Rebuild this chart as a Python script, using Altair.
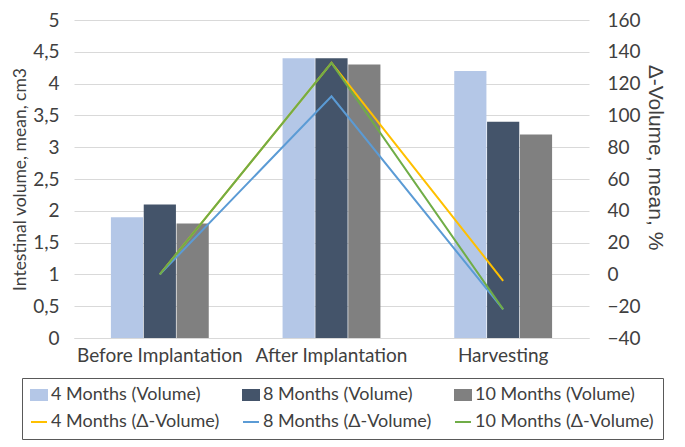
import altair as alt
import pandas as pd

categories = ["Before Implantation", "After Implantation", "Harvesting"]
bar_series = ["4 Months (Volume)", "8 Months (Volume)", "10 Months (Volume)"]
bar_4m = [1.9, 4.4, 4.2]
bar_8m = [2.1, 4.4, 3.4]
bar_10m = [1.8, 4.3, 3.2]
line_series = ["4 Months (Δ-Volume)", "8 Months (Δ-Volume)", "10 Months (Δ-Volume)"]
line_4m = [0, 133, -4]
line_8m = [0, 112, -22]
line_10m = [0, 133, -22]
bar_colors = ["#B4C7E7", "#44546A", "#808080"]
line_colors = ["#FFC000", "#5B9BD5", "#70AD47"]

FONT = "Lato"
TXT = "#404040"
W, H = 515, 318

bars = pd.DataFrame([
    {"cat": c, "series": s, "value": v}
    for s, vals in zip(bar_series, [bar_4m, bar_8m, bar_10m])
    for c, v in zip(categories, vals)
])
lines = pd.DataFrame([
    {"cat": c, "series": s, "value": v}
    for s, vals in zip(line_series, [line_4m, line_8m, line_10m])
    for c, v in zip(categories, vals)
])
all_series = bar_series + line_series
all_colors = bar_colors + line_colors
legend_df = pd.DataFrame({"series": all_series})

RECT = "M-1.6,-1L1.6,-1L1.6,1L-1.6,1Z"
DASH = "M-1.6,0L1.6,0"
all_shapes = [RECT] * 3 + [DASH] * 3

legend = alt.Legend(
    title=None, orient="none", legendX=-52, legendY=H + 40, columns=3, direction="horizontal",
    strokeColor="#595959", padding=8, columnPadding=19, rowPadding=9,
    labelFont=FONT, labelFontSize=18, labelColor=TXT, labelLimit=0, labelOffset=3,
    symbolSize=100, symbolStrokeWidth=2, symbolOpacity=1,
)
color_scale = alt.Scale(domain=all_series, range=all_colors)
stroke_scale = alt.Scale(domain=all_series, range=all_colors)
shape_scale = alt.Scale(domain=all_series, range=all_shapes)

xscale = alt.Scale(domain=categories, paddingInner=0.43, paddingOuter=0.215)

bar_layer = alt.Chart(bars).mark_bar().encode(
    x=alt.X("cat:N", scale=xscale, sort=categories,
            axis=alt.Axis(title=None, labelAngle=0, ticks=False, domainColor="#D9D9D9",
                          labelFontSize=19, labelColor=TXT, labelFont=FONT, labelPadding=8)),
    xOffset=alt.XOffset("series:N", sort=bar_series, scale=alt.Scale(paddingInner=0.02)),
    y=alt.Y("value:Q", scale=alt.Scale(domain=[0, 5]),
            axis=alt.Axis(title="Intestinal volume, mean, cm3", values=[0,0.5,1,1.5,2,2.5,3,3.5,4,4.5,5],
                          labelExpr="replace(toString(datum.value), '.', ',')",
                          grid=True, gridColor="#D9D9D9", domain=False, ticks=False,
                          labelFontSize=19, labelColor=TXT, labelFont=FONT, labelPadding=15,
                          titleFontSize=17.5, titleFont=FONT, titleColor=TXT, titleFontWeight="normal",
                          titlePadding=3)),
    color=alt.Color("series:N", scale=color_scale, legend=legend),
)

line_layer = alt.Chart(lines).mark_line(strokeWidth=2).encode(
    x=alt.X("cat:N", scale=xscale, sort=categories, bandPosition=0.5),
    y=alt.Y("value:Q", scale=alt.Scale(domain=[-40, 160]),
            axis=alt.Axis(title="Δ-Volume, mean, %", orient="right", values=list(range(-40, 161, 20)),
                          grid=False, domain=False, ticks=False,
                          labelFontSize=19, labelColor=TXT, labelFont=FONT, labelPadding=18,
                          titleFontSize=21, titleFont="Liberation Sans", titleColor=TXT,
                          titleFontWeight="normal", titlePadding=4, titleY=H / 2 - 22)),
    color=alt.Color("series:N", scale=color_scale, legend=legend),
    order=alt.Order("series:N"),
)

# legend-only layer (no visible marks): gives the combined legend its per-entry symbols
legend_layer = alt.Chart(legend_df).transform_filter("false").mark_point(filled=True, opacity=1).encode(
    color=alt.Color("series:N", scale=color_scale, legend=legend),
    stroke=alt.Stroke("series:N", scale=stroke_scale, legend=legend),
    shape=alt.Shape("series:N", scale=shape_scale, legend=legend),
)

chart = alt.layer(bar_layer, line_layer, legend_layer).resolve_scale(y="independent").properties(
    width=W, height=H, padding={"left": 3, "top": 3, "right": 0, "bottom": 0}
).configure_view(stroke=None)

chart.save("out.html", embed_options={"renderer": "svg", "actions": False})
